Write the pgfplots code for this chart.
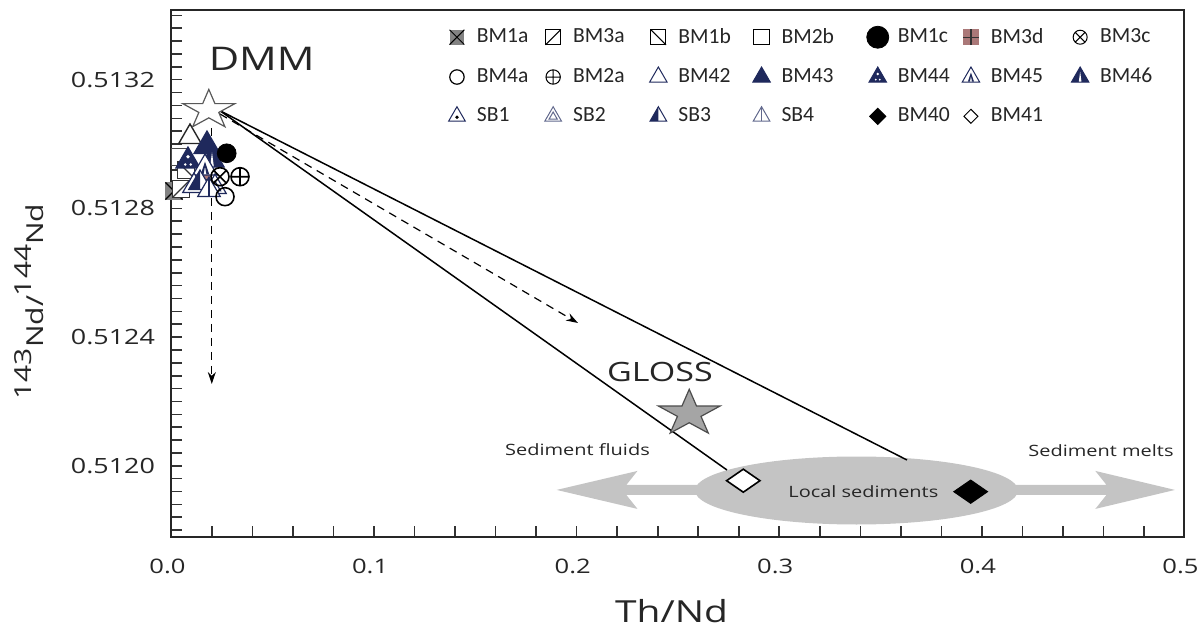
\documentclass[border=0pt]{standalone}
\usepackage{fontspec}
\setmainfont[FakeStretch=1.28]{Open Sans}
\newfontfamily\legfont{Carlito}
\usepackage{pgfplots}
\pgfplotsset{compat=1.18}
\usetikzlibrary{arrows.meta}
\definecolor{navy}{RGB}{31,41,92}
\definecolor{bmgray}{RGB}{130,130,130}
\definecolor{rosy}{RGB}{170,120,120}
\definecolor{sedgray}{RGB}{196,196,196}
\definecolor{glossgray}{RGB}{165,165,165}

\newcommand\mrect{\pgfpathrectangle{\pgfqpoint{-\pgfplotmarksize}{-\pgfplotmarksize}}{\pgfqpoint{2\pgfplotmarksize}{2\pgfplotmarksize}}}
\newcommand\tripath{%
  \pgfpathmoveto{\pgfqpoint{0pt}{\pgfplotmarksize}}%
  \pgfpathlineto{\pgfqpoint{-0.866\pgfplotmarksize}{-0.5\pgfplotmarksize}}%
  \pgfpathlineto{\pgfqpoint{0.866\pgfplotmarksize}{-0.5\pgfplotmarksize}}%
  \pgfpathclose}
\pgfdeclareplotmark{sqX}{%
  \begin{pgfscope}\pgfsetfillcolor{bmgray}\mrect\pgfusepathqfill\end{pgfscope}%
  \pgfpathmoveto{\pgfqpoint{-\pgfplotmarksize}{-\pgfplotmarksize}}\pgfpathlineto{\pgfqpoint{\pgfplotmarksize}{\pgfplotmarksize}}%
  \pgfpathmoveto{\pgfqpoint{-\pgfplotmarksize}{\pgfplotmarksize}}\pgfpathlineto{\pgfqpoint{\pgfplotmarksize}{-\pgfplotmarksize}}%
  \pgfusepathqstroke}
\pgfdeclareplotmark{sqA}{%
  \begin{pgfscope}\pgfsetfillcolor{white}\mrect\pgfusepathqfillstroke\end{pgfscope}%
  \pgfpathmoveto{\pgfqpoint{-\pgfplotmarksize}{-\pgfplotmarksize}}\pgfpathlineto{\pgfqpoint{\pgfplotmarksize}{\pgfplotmarksize}}%
  \pgfusepathqstroke}
\pgfdeclareplotmark{sqB}{%
  \begin{pgfscope}\pgfsetfillcolor{white}\mrect\pgfusepathqfillstroke\end{pgfscope}%
  \pgfpathmoveto{\pgfqpoint{-\pgfplotmarksize}{\pgfplotmarksize}}\pgfpathlineto{\pgfqpoint{\pgfplotmarksize}{-\pgfplotmarksize}}%
  \pgfusepathqstroke}
\pgfdeclareplotmark{sqO}{%
  \begin{pgfscope}\pgfsetfillcolor{white}\mrect\pgfusepathqfillstroke\end{pgfscope}}
\pgfdeclareplotmark{sqP}{%
  \begin{pgfscope}\pgfsetfillcolor{rosy}\mrect\pgfusepathqfill\end{pgfscope}%
  \pgfpathmoveto{\pgfqpoint{-\pgfplotmarksize}{0pt}}\pgfpathlineto{\pgfqpoint{\pgfplotmarksize}{0pt}}%
  \pgfpathmoveto{\pgfqpoint{0pt}{-\pgfplotmarksize}}\pgfpathlineto{\pgfqpoint{0pt}{\pgfplotmarksize}}%
  \pgfusepathqstroke}
\pgfdeclareplotmark{triO}{%
  \begin{pgfscope}\pgfsetfillcolor{white}\tripath\pgfusepathqfillstroke\end{pgfscope}}
\pgfdeclareplotmark{triV}{%
  \begin{pgfscope}\pgfsetfillcolor{white}\tripath\pgfusepathqfillstroke\end{pgfscope}%
  \pgfpathmoveto{\pgfqpoint{0pt}{\pgfplotmarksize}}\pgfpathlineto{\pgfqpoint{0pt}{-0.5\pgfplotmarksize}}\pgfusepathqstroke}
\pgfdeclareplotmark{triIn}{%
  \begin{pgfscope}\pgfsetfillcolor{white}\tripath\pgfusepathqfillstroke\end{pgfscope}%
  \pgfpathmoveto{\pgfqpoint{0pt}{0.45\pgfplotmarksize}}%
  \pgfpathlineto{\pgfqpoint{-0.43\pgfplotmarksize}{-0.3\pgfplotmarksize}}%
  \pgfpathlineto{\pgfqpoint{0.43\pgfplotmarksize}{-0.3\pgfplotmarksize}}\pgfpathclose\pgfusepathqstroke}
\pgfdeclareplotmark{triHalf}{%
  \begin{pgfscope}\pgfsetfillcolor{white}\tripath\pgfusepathqfill\end{pgfscope}%
  \begin{pgfscope}\pgfsetfillcolor{navy}%
  \pgfpathmoveto{\pgfqpoint{0pt}{\pgfplotmarksize}}%
  \pgfpathlineto{\pgfqpoint{-0.866\pgfplotmarksize}{-0.5\pgfplotmarksize}}%
  \pgfpathlineto{\pgfqpoint{0pt}{-0.5\pgfplotmarksize}}\pgfpathclose\pgfusepathqfill\end{pgfscope}%
  \tripath\pgfusepathqstroke}
\pgfdeclareplotmark{triStar}{%
  \begin{pgfscope}\pgfsetfillcolor{white}\tripath\pgfusepathqfillstroke\end{pgfscope}%
  \begin{pgfscope}\pgfsetfillcolor{black}%
  \pgfpathcircle{\pgfqpoint{0pt}{-0.1\pgfplotmarksize}}{0.2\pgfplotmarksize}\pgfusepathqfill\end{pgfscope}}
\pgfdeclareplotmark{triStripe}{%
  \begin{pgfscope}\pgfsetfillcolor{navy}\tripath\pgfusepathqfillstroke\end{pgfscope}%
  \begin{pgfscope}\pgfsetfillcolor{white}%
  \pgfpathmoveto{\pgfqpoint{0pt}{0.55\pgfplotmarksize}}%
  \pgfpathlineto{\pgfqpoint{-0.13\pgfplotmarksize}{-0.45\pgfplotmarksize}}%
  \pgfpathlineto{\pgfqpoint{0.13\pgfplotmarksize}{-0.45\pgfplotmarksize}}\pgfpathclose\pgfusepathqfill\end{pgfscope}}
\pgfdeclareplotmark{triDot}{%
  \begin{pgfscope}\pgfsetfillcolor{navy}\tripath\pgfusepathqfillstroke\end{pgfscope}%
  \begin{pgfscope}\pgfsetfillcolor{white}%
  \pgfpathcircle{\pgfqpoint{0pt}{0.3\pgfplotmarksize}}{0.13\pgfplotmarksize}%
  \pgfpathcircle{\pgfqpoint{-0.2\pgfplotmarksize}{-0.25\pgfplotmarksize}}{0.1\pgfplotmarksize}%
  \pgfpathcircle{\pgfqpoint{0.2\pgfplotmarksize}{-0.25\pgfplotmarksize}}{0.1\pgfplotmarksize}%
  \pgfusepathqfill\end{pgfscope}}
\pgfdeclareplotmark{triPawn}{%
  \begin{pgfscope}\pgfsetfillcolor{white}\tripath\pgfusepathqfillstroke\end{pgfscope}%
  \begin{pgfscope}\pgfsetfillcolor{navy}%
  \pgfpathmoveto{\pgfqpoint{0pt}{0.45\pgfplotmarksize}}%
  \pgfpathlineto{\pgfqpoint{-0.3\pgfplotmarksize}{-0.45\pgfplotmarksize}}%
  \pgfpathlineto{\pgfqpoint{-0.1\pgfplotmarksize}{-0.45\pgfplotmarksize}}%
  \pgfpathlineto{\pgfqpoint{0pt}{0.1\pgfplotmarksize}}%
  \pgfpathlineto{\pgfqpoint{0.1\pgfplotmarksize}{-0.45\pgfplotmarksize}}%
  \pgfpathlineto{\pgfqpoint{0.3\pgfplotmarksize}{-0.45\pgfplotmarksize}}%
  \pgfpathclose\pgfusepathqfill\end{pgfscope}}
\pgfdeclareplotmark{rdia}{%
  \pgfpathmoveto{\pgfqpoint{0pt}{\pgfplotmarksize}}%
  \pgfpathlineto{\pgfqpoint{\pgfplotmarksize}{0pt}}%
  \pgfpathlineto{\pgfqpoint{0pt}{-\pgfplotmarksize}}%
  \pgfpathlineto{\pgfqpoint{-\pgfplotmarksize}{0pt}}%
  \pgfpathclose\pgfusepathqfillstroke}
\pgfdeclareplotmark{fstar}{%
  \pgfpathmoveto{\pgfqpoint{0pt}{\pgfplotmarksize}}%
  \pgfpathlineto{\pgfqpoint{-0.2245\pgfplotmarksize}{0.309\pgfplotmarksize}}%
  \pgfpathlineto{\pgfqpoint{-0.9511\pgfplotmarksize}{0.309\pgfplotmarksize}}%
  \pgfpathlineto{\pgfqpoint{-0.3633\pgfplotmarksize}{-0.118\pgfplotmarksize}}%
  \pgfpathlineto{\pgfqpoint{-0.5878\pgfplotmarksize}{-0.809\pgfplotmarksize}}%
  \pgfpathlineto{\pgfqpoint{0pt}{-0.382\pgfplotmarksize}}%
  \pgfpathlineto{\pgfqpoint{0.5878\pgfplotmarksize}{-0.809\pgfplotmarksize}}%
  \pgfpathlineto{\pgfqpoint{0.3633\pgfplotmarksize}{-0.118\pgfplotmarksize}}%
  \pgfpathlineto{\pgfqpoint{0.9511\pgfplotmarksize}{0.309\pgfplotmarksize}}%
  \pgfpathlineto{\pgfqpoint{0.2245\pgfplotmarksize}{0.309\pgfplotmarksize}}%
  \pgfpathclose\pgfusepathqfillstroke}

\pgfplotsset{myleg/.style={legend image code/.code={%
  \path[draw=none,fill=none] (0pt,-5pt) rectangle (16pt,5pt);
  \draw[mark repeat=2,mark phase=2,##1] plot coordinates {(0pt,0pt)(8pt,0pt)(16pt,0pt)};}}}

\begin{document}
\begin{tikzpicture}
\useasboundingbox (-85.75pt,-45.65pt) rectangle (514.75pt,268.35pt);
\begin{axis}[
  at={(0pt,0pt)}, anchor=south west,
  width=506.5pt, height=263.35pt, scale only axis,
  xmin=0, xmax=0.5, ymin=0.5117796, ymax=0.5134166,
  clip=false,
  axis line style={line width=1pt, black!85},
  xtick={0,0.1,0.2,0.3,0.4,0.5},
  minor x tick num=4,
  ytick={0.5120,0.5124,0.5128,0.5132},
  minor ytick={0.51180,0.51184,0.51188,0.51192,0.51196,0.51204,0.51208,0.51212,0.51216,0.51220,0.51224,0.51228,0.51232,0.51236,0.51244,0.51248,0.51252,0.51256,0.51260,0.51264,0.51268,0.51272,0.51276,0.51284,0.51288,0.51292,0.51296,0.51300,0.51304,0.51308,0.51312,0.51316,0.51324,0.51328,0.51332,0.51336,0.51340},
  tick align=inside,
  xtick pos=bottom, ytick pos=left,
  major tick length=5.5pt, minor tick length=5.5pt,
  tick style={black!80, line width=0.8pt},
  scaled y ticks=false, scaled x ticks=false,
  /pgf/number format/assume math mode=true,
  xticklabel style={/pgf/number format/.cd, fixed, fixed zerofill, precision=1, /tikz/.cd,
     font=\fontsize{10}{12}\selectfont, text=black!85, anchor=base, yshift=-18.2pt, xshift=-2pt},
  yticklabel style={/pgf/number format/.cd, fixed, fixed zerofill, precision=4, /tikz/.cd,
     font=\fontsize{10.5}{12}\selectfont, text=black!85, anchor=east, xshift=-4.75pt},
  xlabel={Th/Nd},
  xlabel style={at={(axis description cs:0.4937,0)}, anchor=base, yshift=-43pt,
     font=\fontsize{15.2}{18}\selectfont, text=black!85},
  ylabel={\raisebox{0.5em}{143}Nd/\raisebox{0.5em}{144}Nd},
  ylabel style={at={(axis description cs:-0.14067,0.44655)}, anchor=center,
     font=\fontsize{11.7}{14}\selectfont, text=black!85},
  legend columns=7,
  legend cell align=left,
  legend style={at={(axis description cs:0.266,0.973)}, anchor=north west,
     draw=none, fill=none, inner sep=0pt, outer sep=0pt,
     column sep=0pt, row sep=7pt,
     font=\legfont\fontsize{10.8}{13}\selectfont, text=black!85},
]
% legend
\addlegendimage{myleg, only marks, mark=sqX, mark size=3.7pt, mark options={line width=0.5pt}}
\addlegendentry{\makebox[28.1pt][l]{BM1a}}
\addlegendimage{myleg, only marks, mark=sqA, mark size=3.8pt, mark options={line width=0.5pt}}
\addlegendentry{\makebox[32.6pt][l]{BM3a}}
\addlegendimage{myleg, only marks, mark=sqB, mark size=3.8pt, mark options={line width=0.5pt}}
\addlegendentry{\makebox[31.6pt][l]{BM1b}}
\addlegendimage{myleg, only marks, mark=sqO, mark size=3.8pt, mark options={line width=0.5pt}}
\addlegendentry{\makebox[38.1pt][l]{BM2b}}
\addlegendimage{myleg, only marks, mark=*, mark size=5.5pt, black}
\addlegendentry{\makebox[26.6pt][l]{BM1c}}
\addlegendimage{myleg, only marks, mark=sqP, mark size=3.9pt, mark options={line width=0.6pt, draw=black!80}}
\addlegendentry{\makebox[34.6pt][l]{BM3d}}
\addlegendimage{myleg, only marks, mark=otimes, mark size=3.5pt, mark options={line width=0.5pt}}
\addlegendentry{\makebox[28pt][l]{BM3c}}
\addlegendimage{myleg, only marks, mark=o, mark size=3.6pt, mark options={line width=0.6pt}}
\addlegendentry{\makebox[28.1pt][l]{BM4a}}
\addlegendimage{myleg, only marks, mark=oplus, mark size=3.6pt, mark options={line width=0.5pt}}
\addlegendentry{\makebox[32.6pt][l]{BM2a}}
\addlegendimage{myleg, only marks, mark=triO, mark size=5pt, mark options={line width=0.5pt, draw=navy}}
\addlegendentry{\makebox[31.6pt][l]{BM42}}
\addlegendimage{myleg, only marks, mark=triangle*, mark size=5pt, mark options={line width=0.5pt, draw=navy, fill=navy}}
\addlegendentry{\makebox[38.1pt][l]{BM43}}
\addlegendimage{myleg, only marks, mark=triDot, mark size=5pt, mark options={line width=0.5pt, draw=navy}}
\addlegendentry{\makebox[26.6pt][l]{BM44}}
\addlegendimage{myleg, only marks, mark=triPawn, mark size=5pt, mark options={line width=0.5pt, draw=navy}}
\addlegendentry{\makebox[34.6pt][l]{BM45}}
\addlegendimage{myleg, only marks, mark=triStripe, mark size=5pt, mark options={line width=0.5pt, draw=navy}}
\addlegendentry{\makebox[28pt][l]{BM46}}
\addlegendimage{myleg, only marks, mark=triStar, mark size=4.8pt, mark options={line width=0.5pt, draw=navy}}
\addlegendentry{\makebox[28.1pt][l]{SB1}}
\addlegendimage{myleg, only marks, mark=triIn, mark size=4.8pt, mark options={line width=0.5pt, draw=navy!70}}
\addlegendentry{\makebox[32.6pt][l]{SB2}}
\addlegendimage{myleg, only marks, mark=triHalf, mark size=4.8pt, mark options={line width=0.5pt, draw=navy}}
\addlegendentry{\makebox[31.6pt][l]{SB3}}
\addlegendimage{myleg, only marks, mark=triV, mark size=4.8pt, mark options={line width=0.5pt, draw=navy!70}}
\addlegendentry{\makebox[38.1pt][l]{SB4}}
\addlegendimage{myleg, only marks, mark=rdia, mark size=4pt, mark options={line width=0.5pt, draw=black, fill=black}}
\addlegendentry{\makebox[26.6pt][l]{BM40}}
\addlegendimage{myleg, only marks, mark=rdia, mark size=3.5pt, mark options={line width=0.5pt, draw=black, fill=white}}
\addlegendentry{\makebox[34.6pt][l]{BM41}}

% fat double arrow and local sediments ellipse
\addplot[forget plot, fill=sedgray, draw=none] coordinates {(0.1901,0.511925) (0.2300,0.5119840) (0.2245,0.5119405) (0.4615,0.5119405) (0.4560,0.5119840) (0.4953,0.511925) (0.4560,0.5118660) (0.4615,0.5119095) (0.2245,0.5119095) (0.2300,0.5118660)} --cycle;
\fill[sedgray] (axis cs:0.33811,0.5119232) ellipse [x radius=80.75pt, y radius=17pt];

% mixing lines
\addplot[forget plot, black, line width=0.75pt] coordinates {(0.02394,0.5131035) (0.27418,0.5119869)};
\addplot[forget plot, black, line width=0.75pt] coordinates {(0.02394,0.5131035) (0.36303,0.512018)};
\addplot[forget plot, black, line width=0.6pt, dash pattern=on 4pt off 3pt, -{Stealth[length=6pt,width=4pt]}] coordinates {(0.02394,0.5130934) (0.20064,0.5124438)};
\addplot[forget plot, black, line width=0.6pt, dash pattern=on 4pt off 3pt, -{Stealth[length=6pt,width=4pt]}] coordinates {(0.0199,0.5130499) (0.0199,0.5122542)};

% samples
\addplot[forget plot, only marks, mark=sqX, mark size=4.3pt, mark options={line width=0.6pt}] coordinates {(0.00123,0.5128541)};
\addplot[forget plot, only marks, mark=sqA, mark size=4.3pt, mark options={line width=0.6pt, draw=black!80}] coordinates {(0.00469,0.5128603)};
\addplot[forget plot, only marks, mark=sqO, mark size=4.3pt, mark options={line width=0.6pt, draw=black!70}] coordinates {(0.00420,0.5129598)};
\addplot[forget plot, only marks, mark=sqB, mark size=4.3pt, mark options={line width=0.6pt, draw=black!80}] coordinates {(0.00716,0.5129193)};
\addplot[forget plot, only marks, mark=sqP, mark size=4pt, mark options={line width=0.6pt, draw=black!80}] coordinates {(0.01505,0.5128883)};
\addplot[forget plot, only marks, mark=triO, mark size=6.5pt, mark options={line width=0.7pt, draw=black!85}] coordinates {(0.00913,0.5130219)};
\addplot[forget plot, only marks, mark=triDot, mark size=7pt, mark options={line width=0.6pt, draw=navy}] coordinates {(0.00814,0.5129473)};
\addplot[forget plot, only marks, mark=triangle*, mark size=7.5pt, mark options={line width=0.6pt, draw=navy, fill=navy}] coordinates {(0.01752,0.5129939)};
\addplot[forget plot, only marks, mark=triStripe, mark size=7pt, mark options={line width=0.6pt, draw=navy}] coordinates {(0.01999,0.5129504)};
\addplot[forget plot, only marks, mark=triPawn, mark size=7pt, mark options={line width=0.6pt, draw=navy}] coordinates {(0.01654,0.5129256)};
\addplot[forget plot, only marks, mark=triStar, mark size=6.5pt, mark options={line width=0.6pt, draw=navy}] coordinates {(0.01111,0.5128696)};
\addplot[forget plot, only marks, mark=triHalf, mark size=6.5pt, mark options={line width=0.6pt, draw=navy}] coordinates {(0.01407,0.5128789)};
\addplot[forget plot, only marks, mark=triIn, mark size=6.5pt, mark options={line width=0.6pt, draw=navy}] coordinates {(0.02147,0.5128665)};
\addplot[forget plot, only marks, mark=triV, mark size=6.5pt, mark options={line width=0.6pt, draw=navy}] coordinates {(0.01851,0.5128572)};
\addplot[forget plot, only marks, mark=*, mark size=4.7pt, black] coordinates {(0.02725,0.5129713)};
\addplot[forget plot, only marks, mark=otimes, mark size=4.5pt, mark options={line width=0.8pt, fill=white}] coordinates {(0.02394,0.5128985)};
\addplot[forget plot, only marks, mark=oplus, mark size=4.5pt, mark options={line width=0.8pt, fill=white}] coordinates {(0.03381,0.5128985)};
\addplot[forget plot, only marks, mark=o, mark size=4.5pt, mark options={line width=0.8pt}] coordinates {(0.02641,0.5128364)};

% end members
\addplot[forget plot, only marks, mark=fstar, mark size=10.3pt, mark options={xscale=1.33, fill=white, draw=black!65, line width=0.6pt}] coordinates {(0.01842,0.5131058)};
\addplot[forget plot, only marks, mark=fstar, mark size=12.1pt, mark options={xscale=1.34, fill=glossgray, draw=black!70, line width=0.6pt}] coordinates {(0.25555,0.5121625)};
\addplot[forget plot, only marks, mark=rdia, mark size=5.75pt, mark options={xscale=1.45, fill=white, draw=black, line width=0.8pt}] coordinates {(0.28223,0.5119537)};
\addplot[forget plot, only marks, mark=rdia, mark size=5.75pt, mark options={xscale=1.45, fill=black, draw=black, line width=0.6pt}] coordinates {(0.39447,0.5119195)};

% labels
\node[anchor=base, font=\fontsize{16.3}{18}\selectfont, text=black!85] at (axis cs:0.04452,0.51323) {DMM};
\node[anchor=base, font=\fontsize{13.3}{15}\selectfont, text=black!85] at (axis cs:0.2411,0.5122614) {GLOSS};
\node[anchor=base, font=\fontsize{7.8}{9}\selectfont, text=black!85] at (axis cs:0.2004,0.5120305) {Sediment fluids};
\node[anchor=base, font=\fontsize{7.8}{9}\selectfont, text=black!85] at (axis cs:0.4588,0.5120283) {Sediment melts};
\node[anchor=base, font=\fontsize{7.8}{9}\selectfont, text=black!85] at (axis cs:0.3415,0.5119021) {Local sediments};
\end{axis}
\end{tikzpicture}
\end{document}
